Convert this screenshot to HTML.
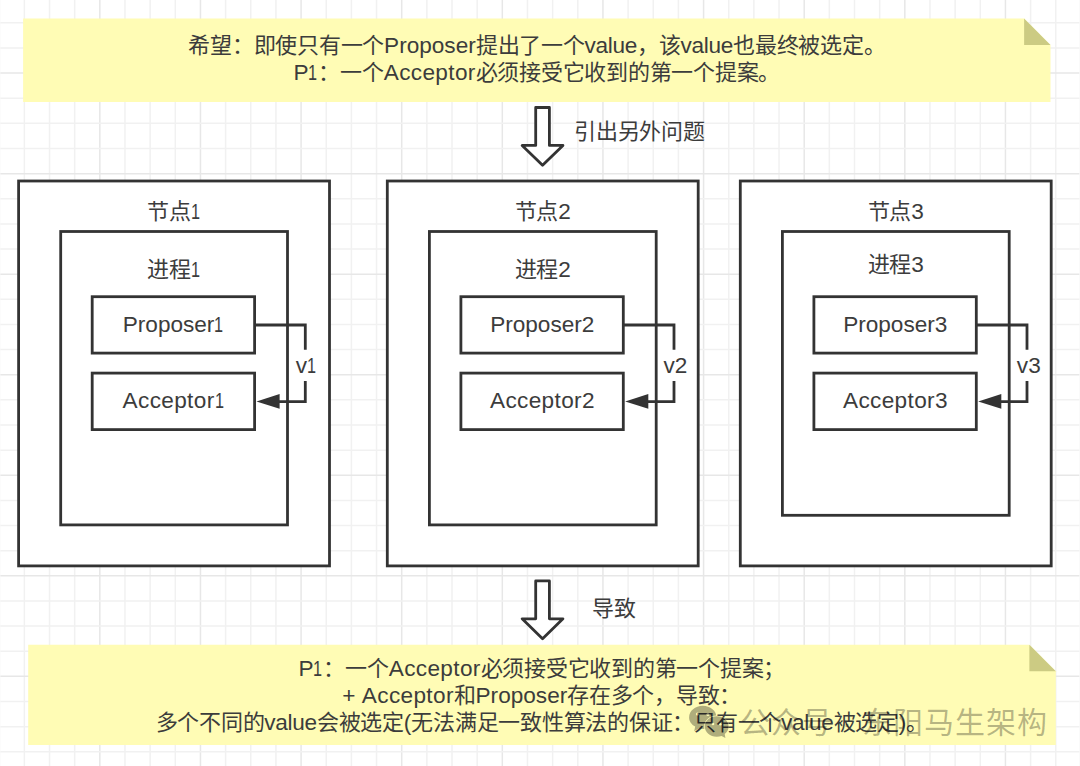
<!DOCTYPE html>
<html lang="zh-CN"><head><meta charset="utf-8"><title>Paxos</title>
<style>
html,body{margin:0;padding:0;background:#fff;}
body{width:1080px;height:766px;position:relative;overflow:hidden;font-family:"Liberation Sans",sans-serif;}
.t{position:absolute;height:0;line-height:0;text-align:center;white-space:nowrap;color:#3c3c3c;font-size:22px;letter-spacing:-0.25px;}
.l{font-size:22.6px;letter-spacing:0px;}
.one{display:inline-block;width:10px;transform:scaleX(0.72);transform-origin:0 0;letter-spacing:0;}
.val{letter-spacing:-0.3px;}
.wd{letter-spacing:0.35px;}
.wm{position:absolute;height:0;line-height:0;white-space:nowrap;color:rgba(0,0,0,0.29);font-size:30px;letter-spacing:0.9px;}
#wrap{position:absolute;left:0;top:0;width:1080px;height:766px;}
</style></head><body><div id="wrap">
<svg style="position:absolute;left:0;top:0" width="1080" height="766" viewBox="0 0 1080 766">
<line x1="-0.80" y1="0" x2="-0.80" y2="766" stroke="#e7e7e7" stroke-width="1.50"/>
<line x1="24.36" y1="0" x2="24.36" y2="766" stroke="#f1f1f1" stroke-width="1.50"/>
<line x1="49.52" y1="0" x2="49.52" y2="766" stroke="#f1f1f1" stroke-width="1.50"/>
<line x1="74.67" y1="0" x2="74.67" y2="766" stroke="#f1f1f1" stroke-width="1.50"/>
<line x1="99.83" y1="0" x2="99.83" y2="766" stroke="#e7e7e7" stroke-width="1.50"/>
<line x1="124.98" y1="0" x2="124.98" y2="766" stroke="#f1f1f1" stroke-width="1.50"/>
<line x1="150.14" y1="0" x2="150.14" y2="766" stroke="#f1f1f1" stroke-width="1.50"/>
<line x1="175.30" y1="0" x2="175.30" y2="766" stroke="#f1f1f1" stroke-width="1.50"/>
<line x1="200.45" y1="0" x2="200.45" y2="766" stroke="#e7e7e7" stroke-width="1.50"/>
<line x1="225.61" y1="0" x2="225.61" y2="766" stroke="#f1f1f1" stroke-width="1.50"/>
<line x1="250.76" y1="0" x2="250.76" y2="766" stroke="#f1f1f1" stroke-width="1.50"/>
<line x1="275.92" y1="0" x2="275.92" y2="766" stroke="#f1f1f1" stroke-width="1.50"/>
<line x1="301.08" y1="0" x2="301.08" y2="766" stroke="#e7e7e7" stroke-width="1.50"/>
<line x1="326.23" y1="0" x2="326.23" y2="766" stroke="#f1f1f1" stroke-width="1.50"/>
<line x1="351.39" y1="0" x2="351.39" y2="766" stroke="#f1f1f1" stroke-width="1.50"/>
<line x1="376.54" y1="0" x2="376.54" y2="766" stroke="#f1f1f1" stroke-width="1.50"/>
<line x1="401.70" y1="0" x2="401.70" y2="766" stroke="#e7e7e7" stroke-width="1.50"/>
<line x1="426.86" y1="0" x2="426.86" y2="766" stroke="#f1f1f1" stroke-width="1.50"/>
<line x1="452.01" y1="0" x2="452.01" y2="766" stroke="#f1f1f1" stroke-width="1.50"/>
<line x1="477.17" y1="0" x2="477.17" y2="766" stroke="#f1f1f1" stroke-width="1.50"/>
<line x1="502.32" y1="0" x2="502.32" y2="766" stroke="#e7e7e7" stroke-width="1.50"/>
<line x1="527.48" y1="0" x2="527.48" y2="766" stroke="#f1f1f1" stroke-width="1.50"/>
<line x1="552.64" y1="0" x2="552.64" y2="766" stroke="#f1f1f1" stroke-width="1.50"/>
<line x1="577.79" y1="0" x2="577.79" y2="766" stroke="#f1f1f1" stroke-width="1.50"/>
<line x1="602.95" y1="0" x2="602.95" y2="766" stroke="#e7e7e7" stroke-width="1.50"/>
<line x1="628.10" y1="0" x2="628.10" y2="766" stroke="#f1f1f1" stroke-width="1.50"/>
<line x1="653.26" y1="0" x2="653.26" y2="766" stroke="#f1f1f1" stroke-width="1.50"/>
<line x1="678.42" y1="0" x2="678.42" y2="766" stroke="#f1f1f1" stroke-width="1.50"/>
<line x1="703.57" y1="0" x2="703.57" y2="766" stroke="#e7e7e7" stroke-width="1.50"/>
<line x1="728.73" y1="0" x2="728.73" y2="766" stroke="#f1f1f1" stroke-width="1.50"/>
<line x1="753.88" y1="0" x2="753.88" y2="766" stroke="#f1f1f1" stroke-width="1.50"/>
<line x1="779.04" y1="0" x2="779.04" y2="766" stroke="#f1f1f1" stroke-width="1.50"/>
<line x1="804.20" y1="0" x2="804.20" y2="766" stroke="#e7e7e7" stroke-width="1.50"/>
<line x1="829.35" y1="0" x2="829.35" y2="766" stroke="#f1f1f1" stroke-width="1.50"/>
<line x1="854.51" y1="0" x2="854.51" y2="766" stroke="#f1f1f1" stroke-width="1.50"/>
<line x1="879.66" y1="0" x2="879.66" y2="766" stroke="#f1f1f1" stroke-width="1.50"/>
<line x1="904.82" y1="0" x2="904.82" y2="766" stroke="#e7e7e7" stroke-width="1.50"/>
<line x1="929.98" y1="0" x2="929.98" y2="766" stroke="#f1f1f1" stroke-width="1.50"/>
<line x1="955.13" y1="0" x2="955.13" y2="766" stroke="#f1f1f1" stroke-width="1.50"/>
<line x1="980.29" y1="0" x2="980.29" y2="766" stroke="#f1f1f1" stroke-width="1.50"/>
<line x1="1005.44" y1="0" x2="1005.44" y2="766" stroke="#e7e7e7" stroke-width="1.50"/>
<line x1="1030.60" y1="0" x2="1030.60" y2="766" stroke="#f1f1f1" stroke-width="1.50"/>
<line x1="1055.76" y1="0" x2="1055.76" y2="766" stroke="#f1f1f1" stroke-width="1.50"/>
<line x1="1080.91" y1="0" x2="1080.91" y2="766" stroke="#f1f1f1" stroke-width="1.50"/>
<line x1="0" y1="22.83" x2="1080" y2="22.83" stroke="#f1f1f1" stroke-width="1.50"/>
<line x1="0" y1="47.97" x2="1080" y2="47.97" stroke="#f1f1f1" stroke-width="1.50"/>
<line x1="0" y1="73.10" x2="1080" y2="73.10" stroke="#e7e7e7" stroke-width="1.50"/>
<line x1="0" y1="98.24" x2="1080" y2="98.24" stroke="#f1f1f1" stroke-width="1.50"/>
<line x1="0" y1="123.37" x2="1080" y2="123.37" stroke="#f1f1f1" stroke-width="1.50"/>
<line x1="0" y1="148.51" x2="1080" y2="148.51" stroke="#f1f1f1" stroke-width="1.50"/>
<line x1="0" y1="173.65" x2="1080" y2="173.65" stroke="#e7e7e7" stroke-width="1.50"/>
<line x1="0" y1="198.78" x2="1080" y2="198.78" stroke="#f1f1f1" stroke-width="1.50"/>
<line x1="0" y1="223.92" x2="1080" y2="223.92" stroke="#f1f1f1" stroke-width="1.50"/>
<line x1="0" y1="249.05" x2="1080" y2="249.05" stroke="#f1f1f1" stroke-width="1.50"/>
<line x1="0" y1="274.19" x2="1080" y2="274.19" stroke="#e7e7e7" stroke-width="1.50"/>
<line x1="0" y1="299.33" x2="1080" y2="299.33" stroke="#f1f1f1" stroke-width="1.50"/>
<line x1="0" y1="324.46" x2="1080" y2="324.46" stroke="#f1f1f1" stroke-width="1.50"/>
<line x1="0" y1="349.60" x2="1080" y2="349.60" stroke="#f1f1f1" stroke-width="1.50"/>
<line x1="0" y1="374.73" x2="1080" y2="374.73" stroke="#e7e7e7" stroke-width="1.50"/>
<line x1="0" y1="399.87" x2="1080" y2="399.87" stroke="#f1f1f1" stroke-width="1.50"/>
<line x1="0" y1="425.01" x2="1080" y2="425.01" stroke="#f1f1f1" stroke-width="1.50"/>
<line x1="0" y1="450.14" x2="1080" y2="450.14" stroke="#f1f1f1" stroke-width="1.50"/>
<line x1="0" y1="475.28" x2="1080" y2="475.28" stroke="#e7e7e7" stroke-width="1.50"/>
<line x1="0" y1="500.41" x2="1080" y2="500.41" stroke="#f1f1f1" stroke-width="1.50"/>
<line x1="0" y1="525.55" x2="1080" y2="525.55" stroke="#f1f1f1" stroke-width="1.50"/>
<line x1="0" y1="550.69" x2="1080" y2="550.69" stroke="#f1f1f1" stroke-width="1.50"/>
<line x1="0" y1="575.82" x2="1080" y2="575.82" stroke="#e7e7e7" stroke-width="1.50"/>
<line x1="0" y1="600.96" x2="1080" y2="600.96" stroke="#f1f1f1" stroke-width="1.50"/>
<line x1="0" y1="626.09" x2="1080" y2="626.09" stroke="#f1f1f1" stroke-width="1.50"/>
<line x1="0" y1="651.23" x2="1080" y2="651.23" stroke="#f1f1f1" stroke-width="1.50"/>
<line x1="0" y1="676.37" x2="1080" y2="676.37" stroke="#e7e7e7" stroke-width="1.50"/>
<line x1="0" y1="701.50" x2="1080" y2="701.50" stroke="#f1f1f1" stroke-width="1.50"/>
<line x1="0" y1="726.64" x2="1080" y2="726.64" stroke="#f1f1f1" stroke-width="1.50"/>
<line x1="0" y1="751.77" x2="1080" y2="751.77" stroke="#f1f1f1" stroke-width="1.50"/>
<line x1="1079.6" y1="0" x2="1079.6" y2="766" stroke="#f7f7f7" stroke-width="0.8"/>
<line x1="0.3" y1="0" x2="0.3" y2="766" stroke="#f8f8f8" stroke-width="0.6"/>
<path d="M23.10,18.50 H1024.10 L1050.50,44.90 V102.00 H23.10 Z" fill="#fffcb5"/>
<path d="M1024.10,18.50 V44.90 H1050.50 Z" fill="#cccb83"/>
<path d="M28.20,644.80 H1029.40 L1055.80,671.20 V745.00 H28.20 Z" fill="#fffcb5"/>
<path d="M1029.40,644.80 V671.20 H1055.80 Z" fill="#cccb83"/>
<path d="M535.70,107.50 H549.40 V145.45 H562.95 L542.55,165.30 L522.15,145.45 H535.70 Z" fill="#fff" stroke="#333333" stroke-width="2.80" stroke-linejoin="round"/>
<path d="M535.70,580.90 H549.40 V618.85 H562.95 L542.55,638.70 L522.15,618.85 H535.70 Z" fill="#fff" stroke="#333333" stroke-width="2.80" stroke-linejoin="round"/>
<rect x="18.60" y="181.00" width="310.90" height="384.90" fill="#fff" stroke="#333333" stroke-width="2.80"/>
<rect x="60.70" y="231.50" width="226.80" height="293.40" fill="#fff" stroke="#333333" stroke-width="2.80"/>
<rect x="92.20" y="296.70" width="162.40" height="56.40" fill="#fff" stroke="#333333" stroke-width="2.80"/>
<rect x="92.20" y="373.10" width="162.40" height="56.50" fill="#fff" stroke="#333333" stroke-width="2.80"/>
<path d="M254.50,325 H305.30 V349.7 M305.30,381 V401.6 H278.00" fill="none" stroke="#333333" stroke-width="2.80" stroke-linejoin="miter"/>
<path d="M256.50,401.4 L279.60,394.1 L279.60,408.7 Z" fill="#333333"/>
<rect x="387.30" y="181.00" width="310.90" height="384.90" fill="#fff" stroke="#333333" stroke-width="2.80"/>
<rect x="429.40" y="231.50" width="226.80" height="293.40" fill="#fff" stroke="#333333" stroke-width="2.80"/>
<rect x="460.90" y="296.70" width="162.40" height="56.40" fill="#fff" stroke="#333333" stroke-width="2.80"/>
<rect x="460.90" y="373.10" width="162.40" height="56.50" fill="#fff" stroke="#333333" stroke-width="2.80"/>
<path d="M623.20,325 H674.00 V349.7 M674.00,381 V401.6 H646.70" fill="none" stroke="#333333" stroke-width="2.80" stroke-linejoin="miter"/>
<path d="M625.20,401.4 L648.30,394.1 L648.30,408.7 Z" fill="#333333"/>
<rect x="740.30" y="181.00" width="310.90" height="384.90" fill="#fff" stroke="#333333" stroke-width="2.80"/>
<rect x="782.40" y="231.50" width="226.80" height="283.80" fill="#fff" stroke="#333333" stroke-width="2.80"/>
<rect x="813.90" y="296.70" width="162.40" height="56.40" fill="#fff" stroke="#333333" stroke-width="2.80"/>
<rect x="813.90" y="373.10" width="162.40" height="56.50" fill="#fff" stroke="#333333" stroke-width="2.80"/>
<path d="M976.20,325 H1027.00 V349.7 M1027.00,381 V401.6 H999.70" fill="none" stroke="#333333" stroke-width="2.80" stroke-linejoin="miter"/>
<path d="M978.20,401.4 L1001.30,394.1 L1001.30,408.7 Z" fill="#333333"/>
</svg>
<div class="t" style="left:-325.95px;top:211.80px;width:1000px">节点<span class="l"><span class="one">1</span></span></div>
<div class="t" style="left:-325.95px;top:269.50px;width:1000px">进程<span class="l"><span class="one">1</span></span></div>
<div class="t" style="left:-326.45px;top:325.00px;width:1000px"><span class="l">Proposer<span class="one">1</span></span></div>
<div class="t" style="left:-326.45px;top:401.40px;width:1000px"><span class="l"><span class="wd">Acceptor</span><span class="one">1</span></span></div>
<div class="t" style="left:-193.70px;top:366.30px;width:1000px"><span class="l">v<span class="one">1</span></span></div>
<div class="t" style="left:42.75px;top:211.80px;width:1000px">节点<span class="l">2</span></div>
<div class="t" style="left:42.75px;top:269.50px;width:1000px">进程<span class="l">2</span></div>
<div class="t" style="left:42.25px;top:325.00px;width:1000px"><span class="l">Proposer2</span></div>
<div class="t" style="left:42.25px;top:401.40px;width:1000px"><span class="l"><span class="wd">Acceptor</span>2</span></div>
<div class="t" style="left:175.50px;top:366.30px;width:1000px"><span class="l">v2</span></div>
<div class="t" style="left:395.75px;top:211.80px;width:1000px">节点<span class="l">3</span></div>
<div class="t" style="left:395.75px;top:264.90px;width:1000px">进程<span class="l">3</span></div>
<div class="t" style="left:395.25px;top:325.00px;width:1000px"><span class="l">Proposer3</span></div>
<div class="t" style="left:395.25px;top:401.40px;width:1000px"><span class="l"><span class="wd">Acceptor</span>3</span></div>
<div class="t" style="left:528.80px;top:366.30px;width:1000px"><span class="l">v3</span></div>
<div class="t" style="left:36.80px;top:45.50px;width:1000px">希望：即使只有一个<span class="l">Proposer</span>提出了一个<span class="l"><span class="val">value</span></span>，该<span class="l"><span class="val">value</span></span>也最终被选定。</div>
<div class="t" style="left:36.80px;top:73.30px;width:1000px"><span class="l">P<span class="one">1</span></span>：一个<span class="l"><span class="wd">Acceptor</span></span>必须接受它收到的第一个提案。</div>
<div class="t" style="left:574px;top:132.3px">引出另外问题</div>
<div class="t" style="left:592px;top:609.4px">导致</div>
<div class="t" style="left:41.80px;top:668.90px;width:1000px"><span class="l">P<span class="one">1</span></span>：一个<span class="l"><span class="wd">Acceptor</span></span>必须接受它收到的第一个提案；</div>
<div class="t" style="left:41.80px;top:695.70px;width:1000px"><span class="l">+&nbsp;<span class="wd">Acceptor</span></span>和<span class="l">Proposer</span>存在多个，导致：</div>
<div class="t" style="left:41.80px;top:722.50px;width:1000px">多个不同的<span class="l"><span class="val">value</span></span>会被选定<span class="l">(</span>无法满足一致性算法的保证：只有一个<span class="l"><span class="val">value</span></span>被选定<span class="l">)</span>。</div>
<svg style="position:absolute;left:0;top:0" width="1080" height="766" viewBox="0 0 1080 766">
<g opacity="0.31">
<path d="M702.8,705.8 C710.4,705.8 716.5,711 716.5,717.4 C716.5,723.8 710.4,729 702.8,729 C701.3,729 699.9,728.8 698.6,728.5 L694.2,731.2 L695.2,726.6 C691.5,724.5 689.1,721.2 689.1,717.4 C689.1,711 695.2,705.8 702.8,705.8 Z" fill="#000"/>
<circle cx="697.4" cy="714" r="1.5" fill="#fffcb5"/><circle cx="707.9" cy="714.4" r="1.5" fill="#fffcb5"/>
<path d="M716.7,716.3 C723.3,716.3 728.6,720.8 728.6,726.5 C728.6,729.6 727.1,732.3 724.7,734.1 L725.4,738.1 L721.6,735.9 C720.1,736.4 718.4,736.7 716.7,736.7 C710.1,736.7 704.8,732.2 704.8,726.5 C704.8,720.8 710.1,716.3 716.7,716.3 Z" fill="#000" stroke="#fffcb5" stroke-width="1.4" paint-order="stroke"/>
<circle cx="713" cy="724" r="1.3" fill="#fffcb5"/><circle cx="720.5" cy="724.3" r="1.3" fill="#fffcb5"/>
</g>
</svg>
<div class="wm" style="left:740.00px;top:722.7px">公众号 · 东阳马生架构</div>
</div></body></html>
